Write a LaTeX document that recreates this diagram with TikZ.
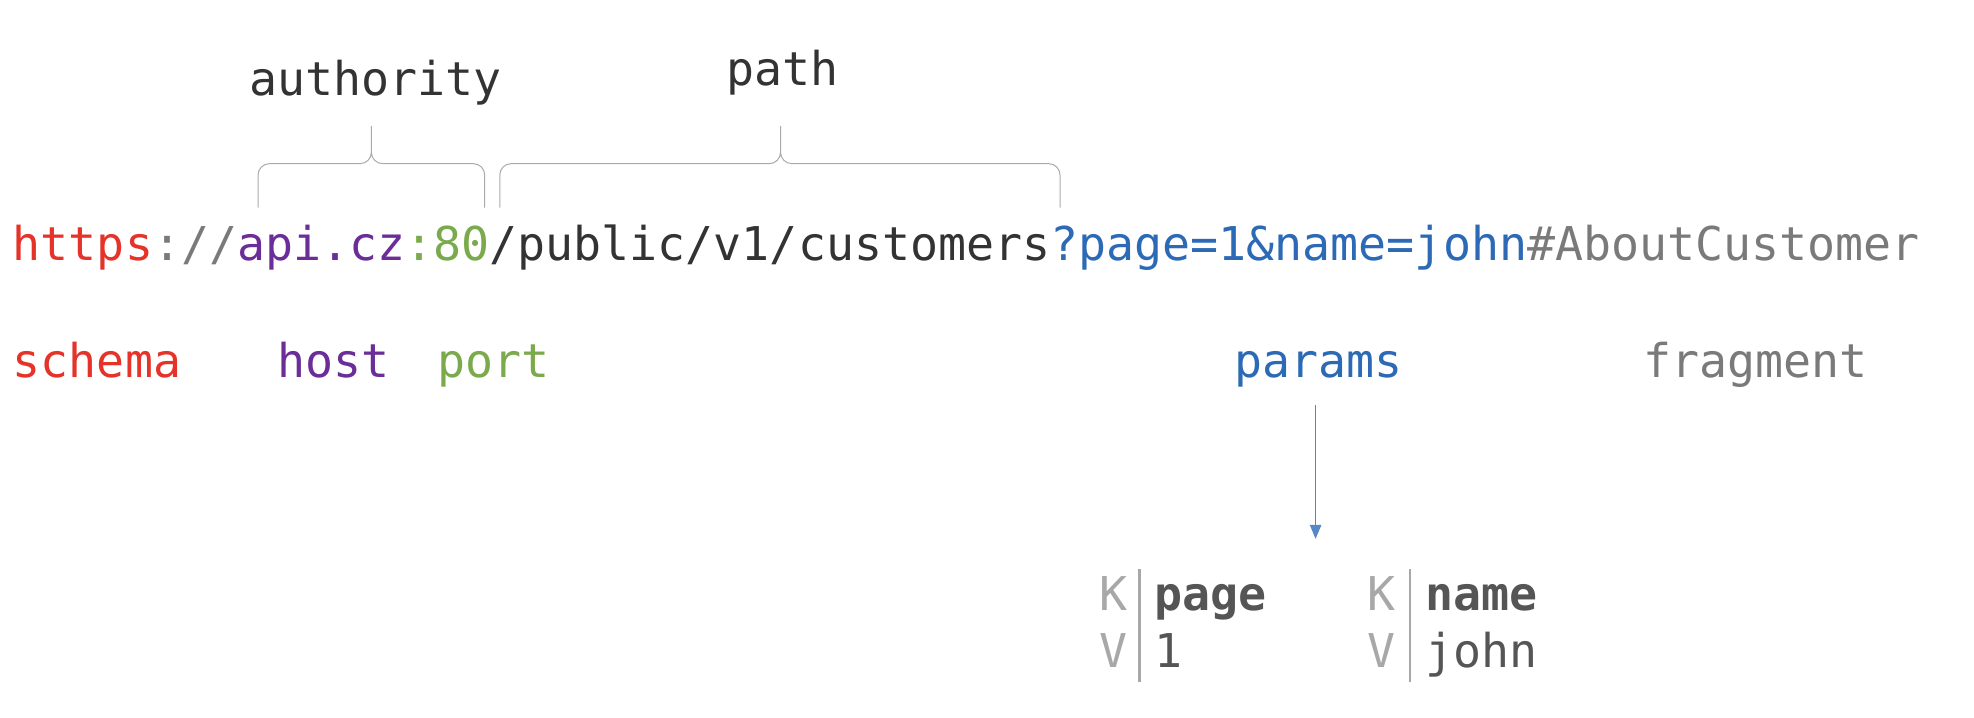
\documentclass[tikz,border=0pt]{standalone}
\usepackage{fontspec}
\setmainfont{DejaVu Sans Mono}
\usetikzlibrary{arrows.meta}
\definecolor{cred}{HTML}{E5332A}
\definecolor{cpur}{HTML}{6B2E98}
\definecolor{cgrn}{HTML}{7AAA4B}
\definecolor{cgry}{HTML}{7A7A7A}
\definecolor{cdrk}{HTML}{333333}
\definecolor{cblu}{HTML}{2C6AB6}
\definecolor{clgt}{HTML}{A8A8A8}
\definecolor{ctab}{HTML}{555555}
\definecolor{cbr}{HTML}{AAAAAA}
\begin{document}
\begin{tikzpicture}[x=1pt,y=-1pt,
  txt/.style={anchor=base west,inner sep=0pt,font=\fontsize{37}{40}\selectfont},
  brc/.style={draw=cbr,line width=0.8pt,rounded corners=9pt},
  bar/.style={draw=clgt,line width=2pt}]
\useasboundingbox (0,0) rectangle (1568,570);
\node[txt] (url) at (10,207) {\textcolor{cred}{https}\textcolor{cgry}{://}\textcolor{cpur}{api.cz}\textcolor{cgrn}{:80}\textcolor{cdrk}{/public/v1/customers}\textcolor{cblu}{?page=1\&name=john}\textcolor{cgry}{\#AboutCustomer}};
\node[txt,text=cred] (schema) at (10,300) {schema};
\node[txt,text=cpur] (host) at (220,300) {host};
\node[txt,text=cgrn] (port) at (347,300) {port};
\node[txt,text=cblu] (params) at (980,300) {params};
\node[txt,text=cgry] (frag) at (1305,300) {fragment};
\node[txt,text=cdrk] (auth) at (198,76) {authority};
\node[txt,text=cdrk] (path) at (577,68) {path};
\draw[brc] (205,165) -- (205,130) -- (295,130) -- (295,95) -- (295,130) -- (385,130) -- (385,165);
\draw[brc] (397,165) -- (397,130) -- (620,130) -- (620,95) -- (620,130) -- (842,130) -- (842,165);
\coordinate (a1) at (1045,322);
\coordinate (a2) at (1045,428);
\draw[cblu!80,line width=1pt,-{Triangle[length=11pt,width=9pt]}] (a1) -- (a2);
\node[txt,text=clgt] (k1) at (873,485) {K};
\node[txt,text=clgt] (v1) at (873,530) {V};
\draw[bar] (905,452) -- (905,542);
\node[txt,text=ctab] (p1) at (917,485) {\textbf{page}};
\node[txt,text=ctab] (n1) at (917,530) {1};
\node[txt,text=clgt] (k2) at (1086,485) {K};
\node[txt,text=clgt] (v2) at (1086,530) {V};
\draw[bar] (1120,452) -- (1120,542);
\node[txt,text=ctab] (p2) at (1132,485) {\textbf{name}};
\node[txt,text=ctab] (n2) at (1132,530) {john};
\end{tikzpicture}
\end{document}
